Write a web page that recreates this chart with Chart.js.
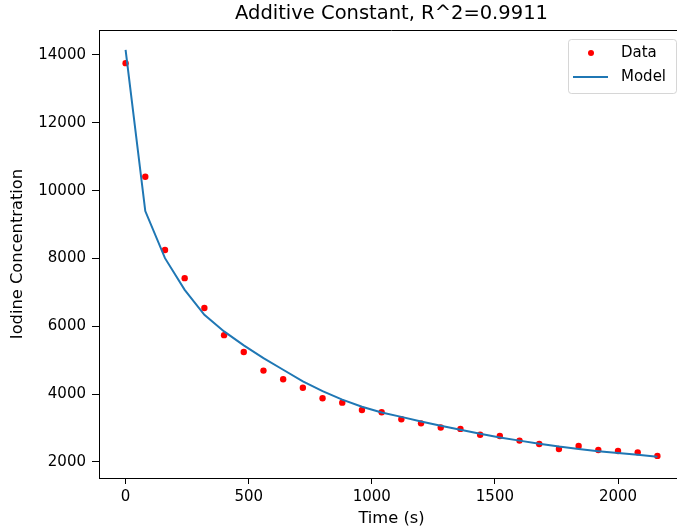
<!DOCTYPE html>
<html>
<head>
<meta charset="utf-8">
<script src="https://cdn.jsdelivr.net/npm/chart.js@4.4.1/dist/chart.umd.min.js"></script>
<style>
  html, body { margin: 0; padding: 0; background: #fff; overflow: hidden; }
  #wrap { width: 677px; height: 531px; overflow: hidden; position: relative; }
  canvas { display: block; }
</style>
</head>
<body>
<div id="wrap"><canvas id="chart" width="700" height="531"></canvas></div>
<script>
// ── Data ────────────────────────────────────────────────
const times = [0, 80, 160, 240, 320, 400, 480, 560, 640, 720, 800, 880, 960, 1040,
  1120, 1200, 1280, 1360, 1440, 1520, 1600, 1680, 1760, 1840, 1920, 2000, 2080, 2160];

const measured = [13760, 10410, 8250, 7420, 6540, 5740, 5245, 4695, 4440, 4190, 3880, 3750, 3535, 3465,
  3260, 3140, 3015, 2975, 2805, 2765, 2630, 2530, 2385, 2470, 2355, 2325, 2285, 2180];

const model = [14150, 9400, 8010, 7075, 6340, 5850, 5440, 5060, 4720, 4380, 4090, 3840, 3630, 3460,
  3330, 3195, 3070, 2950, 2830, 2725, 2630, 2540, 2455, 2385, 2320, 2265, 2210, 2155];

const xTicks = [0, 500, 1000, 1500, 2000];
const yTicks = [2000, 4000, 6000, 8000, 10000, 12000, 14000];

const FONT = "'DejaVu Sans', sans-serif";

// ── Titles, top spine and matplotlib-like legend ────────
const decorPlugin = {
  id: 'mplDecor',
  afterDraw(chart) {
    const { ctx, chartArea: { left, right, top, bottom } } = chart;
    const cx = (left + right) / 2;
    ctx.save();
    // top + right spines
    ctx.strokeStyle = '#000';
    ctx.lineWidth = 1;
    ctx.beginPath();
    ctx.moveTo(left, top + 0.5);
    ctx.lineTo(right, top + 0.5);
    ctx.lineTo(right - 0.5, bottom);
    ctx.stroke();

    ctx.fillStyle = '#000';
    ctx.textAlign = 'center';
    ctx.textBaseline = 'middle';
    ctx.font = `19.5px ${FONT}`;
    ctx.fillText('Additive Constant, R^2=0.9911', cx, 13.5);

    ctx.font = `16.3px ${FONT}`;
    ctx.fillText('Time (s)', cx, 519);

    ctx.save();
    ctx.translate(18, (top + bottom) / 2);
    ctx.rotate(-Math.PI / 2);
    ctx.fillText('Iodine Concentration', 0, 0);
    ctx.restore();

    // legend
    const lx = 568, ly = 39, lw = 108, lh = 54, r = 3;
    ctx.globalAlpha = 0.8;
    ctx.fillStyle = '#fff';
    ctx.strokeStyle = '#cccccc';
    ctx.beginPath();
    ctx.roundRect(lx + 0.5, ly + 0.5, lw, lh, r);
    ctx.fill();
    ctx.stroke();
    ctx.globalAlpha = 1;

    ctx.fillStyle = '#ff0000';
    ctx.beginPath();
    ctx.arc(591, 53, 3, 0, Math.PI * 2);
    ctx.fill();

    ctx.strokeStyle = '#1f77b4';
    ctx.lineWidth = 2;
    ctx.beginPath();
    ctx.moveTo(573, 77);
    ctx.lineTo(608, 77);
    ctx.stroke();

    ctx.fillStyle = '#000';
    ctx.textAlign = 'left';
    ctx.font = `15px ${FONT}`;
    ctx.fillText('Data', 621, 53);
    ctx.fillText('Model', 621, 77);
    ctx.restore();
  }
};

new Chart(document.getElementById('chart'), {
  type: 'scatter',
  data: {
    datasets: [
      {
        label: 'Model',
        data: times.map((t, i) => ({ x: t, y: model[i] })),
        showLine: true,
        borderColor: '#1f77b4',
        borderWidth: 2,
        pointRadius: 0,
        tension: 0,
        order: 0,
      },
      {
        label: 'Data',
        data: times.map((t, i) => ({ x: t, y: measured[i] })),
        backgroundColor: '#ff0000',
        borderWidth: 0,
        pointRadius: 3.2,
        order: 1,
      },
    ],
  },
  options: {
    responsive: false,
    animation: false,
    devicePixelRatio: 1,
    layout: { padding: { left: 0, top: 30, right: 16, bottom: 0 } },
    plugins: {
      legend: { display: false },
      tooltip: { enabled: false },
    },
    scales: {
      x: {
        type: 'linear',
        min: -108,
        max: 2268,
        afterBuildTicks: s => { s.ticks = xTicks.map(v => ({ value: v })); },
        afterFit: s => { s.height = 53; },
        grid: { drawOnChartArea: false, drawTicks: true, tickLength: 6, color: '#000' },
        border: { display: true, color: '#000', width: 1 },
        ticks: { color: '#000', padding: 4, maxRotation: 0, font: { family: FONT, size: 15 }, callback: v => String(v) },
      },
      y: {
        min: 1528,
        max: 14737,
        afterBuildTicks: s => { s.ticks = yTicks.map(v => ({ value: v })); },
        afterFit: s => { s.width = 99; },
        grid: { drawOnChartArea: false, drawTicks: true, tickLength: 7, color: '#000' },
        border: { display: true, color: '#000', width: 1 },
        ticks: { color: '#000', padding: 6, font: { family: FONT, size: 15 }, callback: v => String(v) },
      },
    },
  },
  plugins: [decorPlugin],
});
</script>
</body>
</html>
